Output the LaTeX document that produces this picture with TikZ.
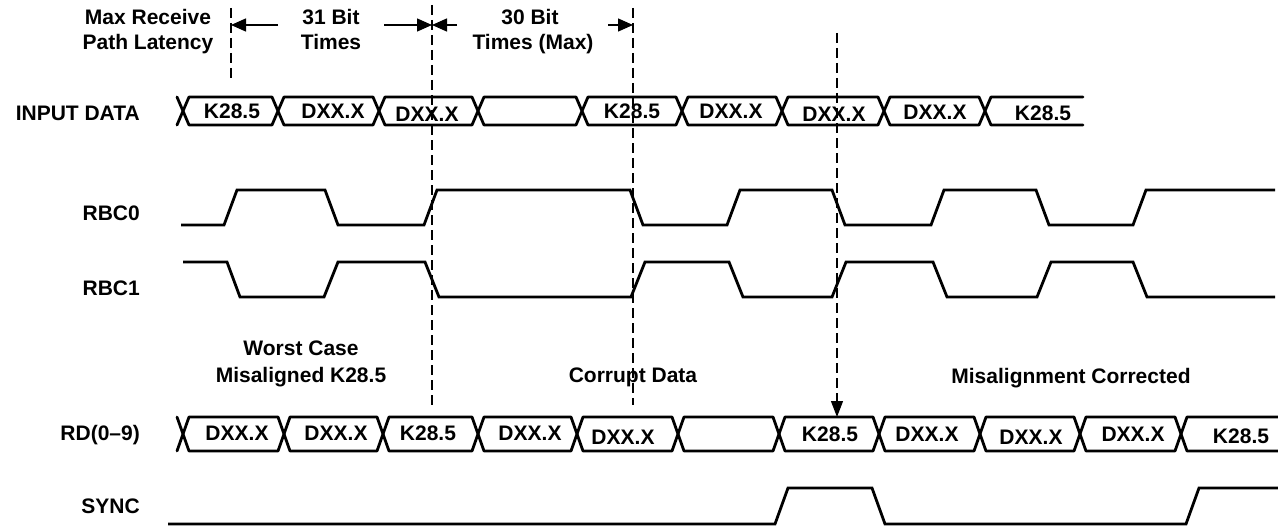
\documentclass[tikz,border=0pt]{standalone}
\usepackage{fontspec}
\setmainfont{Liberation Sans}
\usetikzlibrary{arrows.meta}
\begin{document}
\begin{tikzpicture}[x=1pt,y=-1pt,
  lbl/.style={font=\fontsize{21}{25}\selectfont\bfseries, inner sep=0pt},
  sig/.style={line width=2.8pt, line join=miter, black},
  bus/.style={line width=2.8pt, line join=round, line cap=round, black},
  guide/.style={line width=1.1pt, dash pattern=on 10pt off 5pt},
  dimarrow/.style={line width=1.4pt, -{Triangle[length=15pt,width=13pt]}},
  downarrow/.style={line width=1.1pt, dash pattern=on 10pt off 5pt, -{Triangle[length=16pt,width=12pt]}}]
\useasboundingbox (0,0) rectangle (1278,527);
\fill[white] (0,0) rectangle (1278,527);

% ---------- guide lines ----------
\coordinate (g1t) at (231,8);   \coordinate (g1b) at (231,82);
\coordinate (g2t) at (432,5);   \coordinate (g2b) at (432,405);
\coordinate (g3t) at (633,8);   \coordinate (g3b) at (633,405);
\coordinate (g4t) at (837,33);  \coordinate (g4b) at (837,417);
\draw[guide] (g1t) -- (g1b);
\draw[guide] (g2t) -- (g2b);
\draw[guide] (g3t) -- (g3b);
\draw[downarrow] (g4t) -- (g4b);

% ---------- dimension arrows ----------
\coordinate (a1s) at (278,25); \coordinate (a1e) at (231,25);
\coordinate (a2s) at (384,25); \coordinate (a2e) at (432,25);
\coordinate (a3s) at (457,25); \coordinate (a3e) at (432,25);
\coordinate (a4s) at (608,25); \coordinate (a4e) at (633,25);
\draw[dimarrow] (a1s) -- (a1e);
\draw[dimarrow] (a2s) -- (a2e);
\draw[dimarrow] (a3s) -- (a3e);
\draw[dimarrow] (a4s) -- (a4e);

% ---------- top texts ----------
\node[lbl, anchor=base] (mr1) at (148,25) {Max Receive};
\node[lbl, anchor=base] (mr2) at (148,50) {Path Latency};
\node[lbl, anchor=base] (b31a) at (331,25) {31 Bit};
\node[lbl, anchor=base] (b31b) at (331,50) {Times};
\node[lbl, anchor=base] (b30a) at (530,25) {30 Bit};
\node[lbl, anchor=base] (b30b) at (533,50) {Times (Max)};

% ---------- row labels ----------
\node[lbl, anchor=base east] (lin)   at (140,121) {INPUT DATA};
\node[lbl, anchor=base east] (lrbc0) at (140,220) {RBC0};
\node[lbl, anchor=base east] (lrbc1) at (140,295) {RBC1};
\node[lbl, anchor=base east] (lrd)   at (140,440) {RD(0–9)};
\node[lbl, anchor=base east] (lsync) at (140,513) {SYNC};

% ---------- INPUT DATA bus ----------
\draw[bus] (177,97) -- (183,111) -- (177,125);
\foreach \a/\b in {183/278,278/379,379/478,478/582,582/682,682/782,782/884,884/985}
  \draw[bus] (\a,111) -- (\a+6,97) -- (\b-6,97) -- (\b,111) -- (\b-6,125) -- (\a+6,125) -- cycle;
\draw[bus] (1083,97) -- (991,97) -- (985,111) -- (991,125) -- (1083,125);
\node[lbl] (i1) at (232,111) {K28.5};
\node[lbl] (i2) at (333,111) {DXX.X};
\node[lbl] (i3) at (427,114) {DXX.X};
\node[lbl] (i5) at (632,111) {K28.5};
\node[lbl] (i6) at (731,111) {DXX.X};
\node[lbl] (i7) at (834,114) {DXX.X};
\node[lbl] (i8) at (935,112) {DXX.X};
\node[lbl] (i9) at (1043,113) {K28.5};

% ---------- RBC0 ----------
\draw[sig] (181,225) -- (224,225) -- (237,190) -- (325,190) -- (338,225) -- (424,225) -- (437,190)
  -- (630,190) -- (643,225) -- (727,225) -- (740,190) -- (832,190) -- (845,225) -- (931,225)
  -- (944,190) -- (1036,190) -- (1049,225) -- (1133,225) -- (1146,190) -- (1275,190);

% ---------- RBC1 ----------
\draw[sig] (183,262) -- (227,262) -- (240,297) -- (324,297) -- (338,262) -- (425,262) -- (439,297)
  -- (631,297) -- (645,262) -- (729,262) -- (743,297) -- (832,297) -- (846,262) -- (933,262)
  -- (947,297) -- (1037,297) -- (1051,262) -- (1133,262) -- (1147,297) -- (1275,297);

% ---------- middle texts ----------
\node[lbl, anchor=base] (wc1) at (301,355) {Worst Case};
\node[lbl, anchor=base] (wc2) at (301,382) {Misaligned K28.5};
\node[lbl, anchor=base] (cd)  at (633,382) {Corrupt Data};
\node[lbl, anchor=base] (mc)  at (1071,383) {Misalignment Corrected};

% ---------- RD(0-9) bus ----------
\draw[bus] (177,417) -- (183,434) -- (177,451);
\foreach \a/\b in {183/284,284/383,383/478,478/577,577/678,678/779,779/879,879/980,980/1080,1080/1181}
  \draw[bus] (\a,434) -- (\a+6,417) -- (\b-6,417) -- (\b,434) -- (\b-6,451) -- (\a+6,451) -- cycle;
\draw[bus] (1290,417) -- (1187,417) -- (1181,434) -- (1187,451) -- (1290,451);
\node[lbl] (r1)  at (237,433) {DXX.X};
\node[lbl] (r2)  at (336,433) {DXX.X};
\node[lbl] (r3)  at (428,433) {K28.5};
\node[lbl] (r4)  at (530,433) {DXX.X};
\node[lbl] (r5)  at (623,437) {DXX.X};
\node[lbl] (r7)  at (830,434) {K28.5};
\node[lbl] (r8)  at (927,434) {DXX.X};
\node[lbl] (r9)  at (1031,437) {DXX.X};
\node[lbl] (r10) at (1133,434) {DXX.X};
\node[lbl] (r11) at (1241,436) {K28.5};

% ---------- SYNC ----------
\draw[sig] (168,524) -- (775,524) -- (788,488) -- (872,488) -- (885,524) -- (1186,524)
  -- (1199,488) -- (1290,488);
\end{tikzpicture}
\end{document}
